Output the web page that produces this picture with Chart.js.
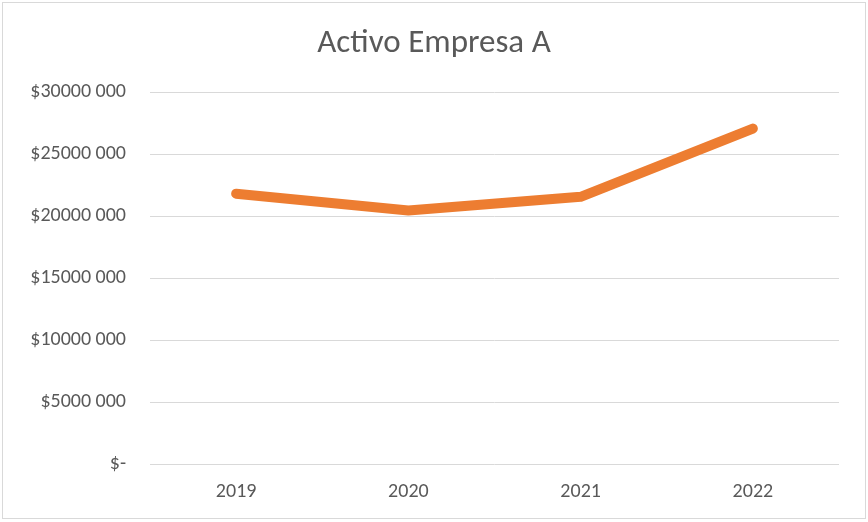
<!DOCTYPE html>
<html>
<head>
<meta charset="utf-8">
<script src="https://cdn.jsdelivr.net/npm/chart.js@4/dist/chart.umd.min.js"></script>
<style>
  body { margin: 0; background: #fff; }
  #wrap { position: relative; width: 868px; height: 522px; }
  #frame { position: absolute; left: 2px; top: 2px; width: 862px; height: 515px; border: 1px solid #d9d9d9; }
  canvas { position: absolute; left: 0; top: 0; }
</style>
</head>
<body>
<div id="wrap">
  <canvas id="chart" width="868" height="522"></canvas>
  <div id="frame"></div>
</div>
<script>
// chart data
const years = ['2019', '2020', '2021', '2022'];
const activo = [21800000, 20450000, 21550000, 27050000];
const yTicks = [0, 5000000, 10000000, 15000000, 20000000, 25000000, 30000000];

const textFont = "Carlito, Calibri, 'Liberation Sans', sans-serif";

function money(v) {
    if (v === 0) return '$-';
    return '$' + Math.round(v / 1000) + ' 000';
}

window.onload = function () {
    const ctx = document.getElementById('chart').getContext('2d');
    new Chart(ctx, {
        type: 'line',
        data: {
            labels: years,
            datasets: [{
                label: 'Activo',
                data: activo,
                borderColor: '#ED7D31',
                borderWidth: 10,
                borderCapStyle: 'round',
                borderJoinStyle: 'round',
                pointRadius: 0,
                tension: 0,
                fill: false
            }]
        },
        options: {
            responsive: false,
            animation: false,
            // equal side padding keeps the title centred on the canvas
            layout: { padding: { left: 29, right: 29, top: 0, bottom: 0 } },
            plugins: {
                legend: { display: false },
                tooltip: { enabled: false },
                title: {
                    display: true,
                    text: 'Activo Empresa A',
                    color: '#595959',
                    font: { family: textFont, size: 33, weight: 'normal', lineHeight: 1.2 },
                    padding: { top: 24, bottom: 28.4 }
                }
            },
            scales: {
                x: {
                    offset: true,
                    grid: { display: false },
                    border: { display: false },
                    ticks: { color: '#595959', font: { family: textFont, size: 20 }, padding: 8 },
                    afterFit: s => { s.height = 58; }
                },
                y: {
                    min: 0,
                    max: 30000000,
                    afterBuildTicks: s => { s.ticks = yTicks.map(v => ({ value: v })); },
                    grid: { color: '#d9d9d9', lineWidth: 1, drawTicks: false },
                    border: { display: false },
                    ticks: { color: '#595959', font: { family: textFont, size: 20 }, padding: 24, callback: money },
                    afterFit: s => { s.width = 121; }
                }
            }
        }
    });
};
</script>
</body>
</html>
